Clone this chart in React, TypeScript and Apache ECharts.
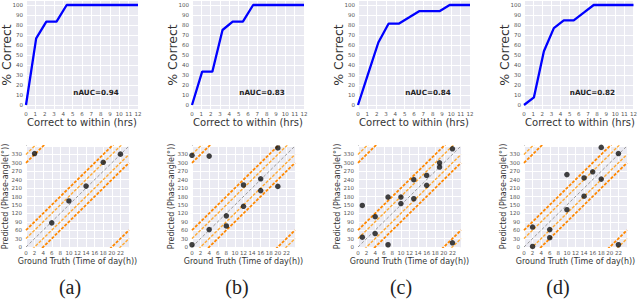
import { useEffect, useRef } from "react";
import * as echarts from "echarts";

// ---------- data ----------
const thresholds = [0, 1.09, 2.18, 3.27, 4.36, 5.45, 6.55, 7.64, 8.73, 9.82, 10.91, 12];
const accA = [0, 66.7, 83.3, 83.3, 100, 100, 100, 100, 100, 100, 100, 100];
const accB = [0, 33.3, 33.3, 75, 83.3, 83.3, 100, 100, 100, 100, 100, 100];
const accC = [0, 31.3, 62.5, 81.3, 81.3, 87.5, 93.8, 93.8, 93.8, 100, 100, 100];
const accD = [0, 7.7, 53.8, 76.9, 84.6, 84.6, 92.3, 100, 100, 100, 100, 100];
const naucLabels = ["nAUC=0.94", "nAUC=0.83", "nAUC=0.84", "nAUC=0.82"];
const captions = ["(a)", "(b)", "(c)", "(d)"];

const topYTicks = [0, 10, 20, 30, 40, 50, 60, 70, 80, 90, 100];

const ptsA = [[2, 333], [6, 86], [10, 164], [14, 217], [18, 302], [22, 331]];
const ptsB = [[0, 8], [0, 327], [4, 324], [4, 62], [8, 111], [8, 75], [12, 221], [12, 145], [16, 243], [16, 201], [20, 353], [20, 216]];
const ptsC = [[1, 35], [1, 148], [4, 108], [4, 48], [7, 178], [7, 8], [10, 178], [10, 155], [13, 240], [13, 172], [16, 255], [16, 220], [19, 300], [19, 285], [22, 350], [22, 15]];
const ptsD = [[2, 71], [2, 2], [6, 62], [6, 33], [10, 258], [10, 133], [14, 246], [14, 181], [16, 268], [18, 355], [18, 242], [22, 333], [22, 8]];

// reference lines: predicted = 15 * hour + offset (degrees)
const grayOffsets = [-360, 0, 360];
const lightOffsets = [-330, -30, 30, 330];
const darkOffsets = [-300, -60, 60, 300];

const accs = [accA, accB, accC, accD];
const pts = [ptsA, ptsB, ptsC, ptsD];

// ---------- layout ----------
const lefts = [26, 192, 358, 524];
const TOP = { top: 1, width: 112, height: 108 };
const BOT = { top: 146, width: 103, height: 101 };
const captionX = [70, 237, 401, 558];

const FONT = "DejaVu Sans";
const TICK_COLOR = "#555555";

export default function App() {
  const ref = useRef<HTMLDivElement>(null);

  useEffect(() => {
    if (!ref.current) return;
    const chart = echarts.init(ref.current, undefined, { renderer: "svg" });

    const grid: any[] = [];
    const xAxis: any[] = [];
    const yAxis: any[] = [];
    const series: any[] = [];

    const splitLine = { show: true, lineStyle: { color: "#ffffff", width: 1 } };
    const label = (extra: any) => ({
      color: TICK_COLOR,
      fontSize: 5.5,
      fontFamily: FONT,
      ...extra,
    });

    for (let i = 0; i < 4; i++) {
      grid.push({
        left: lefts[i], top: TOP.top, width: TOP.width, height: TOP.height,
        show: true, backgroundColor: "#EAEAF2", borderWidth: 0,
      });
      xAxis.push({
        type: "value", gridIndex: 2 * i, min: 0, max: 12, interval: 1,
        axisLine: { show: false }, axisTick: { show: false },
        axisLabel: label({ margin: 2 }), splitLine,
      });
      yAxis.push({
        type: "value", gridIndex: 2 * i, min: -4, max: 104,
        axisLine: { show: false },
        axisTick: { show: false, customValues: topYTicks },
        axisLabel: label({ margin: 3, customValues: topYTicks }),
        splitLine,
      });
      series.push({
        type: "line", xAxisIndex: 2 * i, yAxisIndex: 2 * i,
        data: thresholds.map((t, k) => [t, accs[i][k]]),
        symbol: "none", lineStyle: { color: "#0000FF", width: 2.3 },
        z: 5,
      });

      grid.push({
        left: lefts[i], top: BOT.top, width: BOT.width, height: BOT.height,
        show: true, backgroundColor: "#EAEAF2", borderWidth: 0,
      });
      xAxis.push({
        type: "value", gridIndex: 2 * i + 1, min: 0, max: 24, interval: 2,
        axisLine: { show: false }, axisTick: { show: false },
        axisLabel: label({ margin: 3, showMaxLabel: false }), splitLine,
      });
      yAxis.push({
        type: "value", gridIndex: 2 * i + 1, min: 0, max: 360, interval: 30,
        axisLine: { show: false }, axisTick: { show: false },
        axisLabel: label({ margin: 4, showMaxLabel: false }), splitLine,
      });
      const refLine = (c: number, color: string, width: number, dash: number[]) => ({
        type: "line", xAxisIndex: 2 * i + 1, yAxisIndex: 2 * i + 1,
        data: [[0, c], [24, 360 + c]], symbol: "none", clip: true,
        lineStyle: { color, width, type: dash }, z: 2, silent: true,
      });
      grayOffsets.forEach((c) => series.push(refLine(c, "#9a9a9a", 1, [3, 2])));
      lightOffsets.forEach((c) => series.push(refLine(c, "#FFAA33", 1.4, [3, 1.5])));
      darkOffsets.forEach((c) => series.push(refLine(c, "#FF8800", 1.8, [3, 1.5])));
      series.push({
        type: "scatter", xAxisIndex: 2 * i + 1, yAxisIndex: 2 * i + 1,
        data: pts[i], symbolSize: 5.5, itemStyle: { color: "#111111" }, z: 6,
      });
    }

    chart.setOption({ animation: false, grid, xAxis, yAxis, series });

    const graphic: any[] = [];
    const txt = (x: number, y: number, text: string, fontSize: number, extra: any = {}, rotation = 0) => ({
      type: "text", x, y, rotation, silent: true,
      style: {
        text, fontSize, fontFamily: FONT, fill: "#333333",
        align: "center", verticalAlign: "middle", ...extra,
      },
    });
    for (let i = 0; i < 4; i++) {
      const cxTop = lefts[i] + TOP.width / 2;
      const cxBot = lefts[i] + BOT.width / 2;
      graphic.push(txt(lefts[i] - 20, TOP.top + TOP.height / 2, "% Correct", 12.5, {}, Math.PI / 2));
      graphic.push(txt(cxTop, 122.7, "Correct to within (hrs)", 10));
      graphic.push(txt(lefts[i] - 21, BOT.top + BOT.height / 2, "Predicted (Phase-angle(\u00B0))", 8, {}, Math.PI / 2));
      graphic.push(txt(cxBot, 261.7, "Ground Truth (Time of day(h))", 8));
      const p = chart.convertToPixel({ gridIndex: 2 * i }, [7.5, 13]) as number[];
      graphic.push(txt(p[0], p[1], naucLabels[i], 7.2, { fontWeight: "bold", fill: "#222222" }));
      graphic.push(txt(captionX[i], 287, captions[i], 20, { fontFamily: "Liberation Serif", fill: "#222222" }));
    }
    chart.setOption({ graphic });

    return () => chart.dispose();
  }, []);

  return (
    <div
      ref={ref}
      style={{ position: "absolute", left: 0, top: 0, width: 640, height: 299, background: "#ffffff" }}
    />
  );
}
